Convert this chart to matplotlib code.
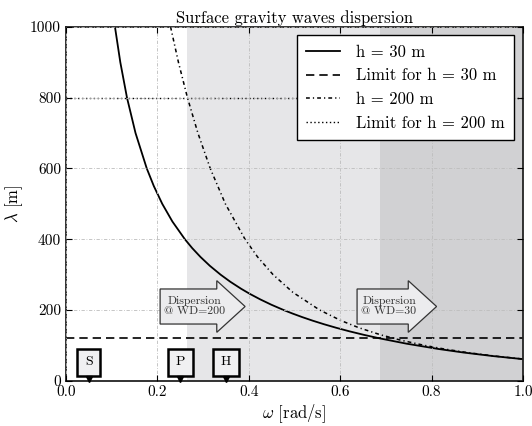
import numpy as np
import matplotlib
matplotlib.use("Agg")
import matplotlib.pyplot as plt
from matplotlib.patches import FancyArrow

plt.rcParams['font.family'] = ['cmr10', 'DejaVu Serif']
plt.rcParams['mathtext.fontset'] = 'cm'
plt.rcParams['axes.formatter.use_mathtext'] = True

# wavelength (m) vs angular frequency (rad/s)
lam_30 = [1000, 900, 800, 700, 600, 550, 500, 450, 400, 375, 350, 325, 300,
          280, 260, 245, 230, 215, 200, 190, 180, 170, 160, 150, 140, 130,
          120, 105, 90, 80, 70, 62, 61]
w_30 = [0.1072, 0.1189, 0.1335, 0.1522, 0.1768, 0.1923, 0.2107, 0.2329,
        0.2602, 0.2762, 0.2943, 0.3148, 0.3383, 0.3595, 0.3834, 0.4033,
        0.4253, 0.4495, 0.4764, 0.4960, 0.5171, 0.5398, 0.5644, 0.5911,
        0.6200, 0.6517, 0.6864, 0.7453, 0.8151, 0.8699, 0.9341, 0.9948,
        1.0031]

lam_200 = [1000, 900, 800, 700, 600, 500, 400, 350, 300, 250, 200, 170, 150,
           130, 115, 100, 90, 80, 70, 62, 61]
w_200 = [0.2289, 0.2461, 0.2658, 0.2887, 0.3157, 0.3488, 0.3918, 0.4193,
         0.4532, 0.4965, 0.5552, 0.6022, 0.6410, 0.6886, 0.7321, 0.7851,
         0.8276, 0.8778, 0.9384, 0.9971, 1.0052]

limit_30 = 120
limit_200 = 800
# start of dispersive zones
zone_200 = 0.2658
zone_30 = 0.6864

mark_labels = ['S', 'P', 'H']
mark_w = [0.05, 0.25, 0.35]

fig = plt.figure(figsize=(5.32, 4.26), dpi=100)
ax = fig.add_axes([0.124, 0.106, 0.859, 0.831])

ax.axvspan(zone_200, 1.0, color='#e6e6e8', lw=0, zorder=0)
ax.axvspan(zone_30, 1.0, color='#d1d1d3', lw=0, zorder=0)

ax.plot(w_30, lam_30, color='black', lw=1.3, label='h = 30 m')
ax.axhline(limit_30, color='black', lw=1.2, ls=(0, (5, 3)), label='Limit for h = 30 m')
ax.plot(w_200, lam_200, color='black', lw=1.1, ls=(0, (2.5, 2, 0.8, 2)), label='h = 200 m')
ax.axhline(limit_200, color='black', lw=1.0, ls=(0, (1, 1.8)), label='Limit for h = 200 m')

# arrows for the dispersion zones
arrows = [(0.206, 0.392, 'Dispersion\n@ WD=200'), (0.637, 0.811, 'Dispersion\n@ WD=30')]
for x0, x1, txt in arrows:
    ar = FancyArrow(x0, 210, x1 - x0, 0, width=99, head_width=146, head_length=0.062,
                    length_includes_head=True, fc='#ececee', ec='#333333', lw=0.9, zorder=3)
    ax.add_patch(ar)
    ax.text(x0 + (x1 - x0 - 0.062) / 2 + 0.014, 212, txt, ha='center', va='center',
            fontsize=8.5, color='#333333', linespacing=1.0, zorder=4)

for lab, w in zip(mark_labels, mark_w):
    ax.text(w, 52, lab, ha='center', va='center', fontsize=10, zorder=5,
            bbox=dict(boxstyle='square,pad=0.55', fc='#f0f0f2', ec='black', lw=1.8))
    ax.plot(w, 4, marker='v', ms=4, color='black', zorder=6, clip_on=False)

ax.set_xlim(0, 1.0)
ax.set_ylim(0, 1000)
ax.set_xticks([0.0, 0.2, 0.4, 0.6, 0.8, 1.0])
ax.set_yticks([0, 200, 400, 600, 800, 1000])
ax.set_xticklabels(['0.0', '0.2', '0.4', '0.6', '0.8', '1.0'])
ax.set_yticklabels(['0', '200', '400', '600', '800', '1000'])
ax.tick_params(direction='in', top=True, right=True, labelsize=11, length=4)
ax.grid(True, color='#bdbdbd', lw=0.6, ls=(0, (4, 2, 1, 2)))
ax.set_axisbelow(False)
for s in ax.spines.values():
    s.set_linewidth(1.3)
    s.set_color('#222222')

ax.set_xlabel(r'$\omega$ [rad/s]', fontsize=12, labelpad=2)
ax.set_ylabel(r'$\lambda$ [m]', fontsize=12, labelpad=4)
ax.set_title('Surface gravity waves dispersion', fontsize=12, pad=3)

leg = ax.legend(loc='upper right', fontsize=12, frameon=True, fancybox=False,
                edgecolor='black', framealpha=1, handlelength=2.0, borderpad=0.55,
                labelspacing=0.5, handletextpad=1.0, borderaxespad=0,
                bbox_to_anchor=(0.981, 0.976))
leg.get_frame().set_linewidth(1.0)

fig.savefig('out.png', dpi=100)
